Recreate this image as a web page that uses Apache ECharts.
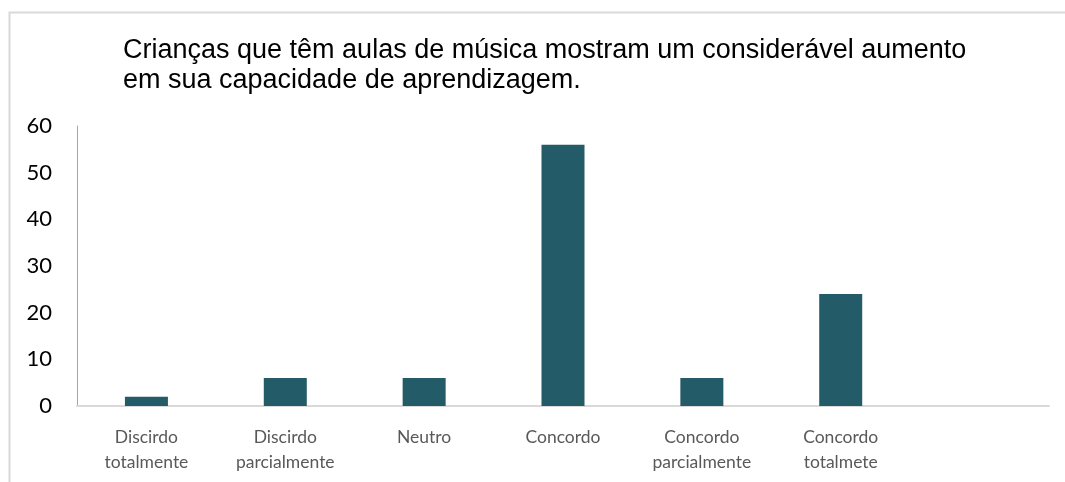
<!DOCTYPE html>
<html>
<head>
<meta charset="utf-8">
<script src="https://cdn.jsdelivr.net/npm/echarts@6/dist/echarts.min.js"></script>
<style>
  html, body { margin: 0; padding: 0; background: #fff; }
  #chart { width: 1065px; height: 482px; }
</style>
</head>
<body>
<div id="chart"></div>
<script>
// Response categories (the last slot is left empty on purpose)
const categories = [
  'Discirdo\ntotalmente',
  'Discirdo\nparcialmente',
  'Neutro',
  'Concordo',
  'Concordo\nparcialmente',
  'Concordo\ntotalmete',
  ''
];
// Number of answers per category
const values = [2, 6, 6, 56, 6, 24, null];
// Y axis ticks
const yMin = 0;
const yMax = 60;
const yStep = 10;

const chartTitle = 'Crianças que têm aulas de música mostram um considerável aumento\nem sua capacidade de aprendizagem.';

const chart = echarts.init(document.getElementById('chart'), null, { renderer: 'canvas' });
chart.setOption({
  backgroundColor: '#ffffff',
  animation: false,
  graphic: [{
    type: 'polyline',
    shape: { points: [[9.5, 482], [9.5, 12.5], [1065, 12.5]] },
    style: { fill: null, stroke: '#d9d9d9', lineWidth: 2 },
    silent: true
  }],
  title: {
    text: chartTitle,
    left: 118,
    top: 31,
    textStyle: {
      fontFamily: 'Liberation Sans, Arial, sans-serif',
      fontSize: 27,
      fontWeight: 'normal',
      color: '#000000',
      lineHeight: 30
    }
  },
  grid: { left: 77, right: 16, top: 126, bottom: 76, containLabel: false },
  xAxis: {
    type: 'category',
    data: categories,
    axisLine: { show: true, lineStyle: { color: '#d9d9d9', width: 2 } },
    axisTick: { show: false },
    axisLabel: {
      interval: 0,
      margin: 19,
      color: '#595959',
      fontFamily: 'Lato, "Open Sans", sans-serif',
      fontSize: 17.5,
      lineHeight: 25
    }
  },
  yAxis: {
    type: 'value',
    min: yMin,
    max: yMax,
    interval: yStep,
    axisLine: { show: true, lineStyle: { color: '#8dc63f', width: 1 } },
    axisTick: { show: false },
    splitLine: { show: false },
    axisLabel: {
      margin: 25,
      color: '#000000',
      fontFamily: 'Lato, "Open Sans", sans-serif',
      fontSize: 22
    }
  },
  series: [{
    type: 'bar',
    data: values,
    barWidth: 43,
    itemStyle: { color: '#235b68' }
  }]
});
</script>
</body>
</html>
